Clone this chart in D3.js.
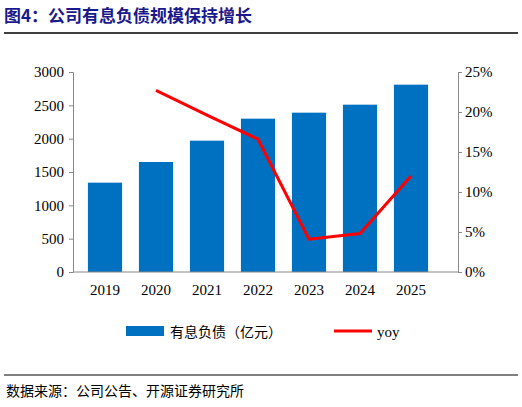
<!DOCTYPE html><html><head><meta charset="utf-8"><script src="https://cdn.jsdelivr.net/npm/d3@7"></script>
<style>body{margin:0;background:#fff}</style></head><body><svg id="c" width="522" height="407"></svg><script>
const years=["2019","2020","2021","2022","2023","2024","2025"];
const debt=[1340,1650,1970,2300,2390,2510,2810];
const yoy=[null,22.7,19.6,16.6,4.1,4.8,12.0];
const leftTicks=[0,500,1000,1500,2000,2500,3000];
const rightTicks=[0,5,10,15,20,25];
const svg=d3.select("#c");
const serif="'Liberation Serif','Times New Roman',serif", cjk="'Noto Sans CJK SC',sans-serif";
svg.append("text").attr("x",4).attr("y",22).attr("fill","#1a1a8c").attr("font-family",cjk).attr("font-weight","bold").attr("font-size",17).text("图4：公司有息负债规模保持增长");
svg.append("line").attr("x1",4).attr("x2",518).attr("y1",33).attr("y2",33).attr("stroke","#000").attr("stroke-width",1.5);
const L=73,R=458,T=72,B=272;
const x=d3.scaleBand().domain(years).range([79.5,436.5]).paddingInner(0.33).paddingOuter(0.165);
const y=d3.scaleLinear().domain([0,3000]).range([B,T]);
const y2=d3.scaleLinear().domain([0,25]).range([B,T]);
svg.selectAll("rect.b").data(years).enter().append("rect").attr("x",d=>x(d)).attr("width",x.bandwidth()).attr("y",(d,i)=>y(debt[i])).attr("height",(d,i)=>B-y(debt[i])).attr("fill","#0070C0");
const ax=svg.append("g").attr("transform",`translate(0,${B})`).call(d3.axisBottom(x).tickSize(0).tickPadding(12));
ax.select(".domain").remove();
svg.append("line").attr("x1",L).attr("x2",R).attr("y1",B).attr("y2",B).attr("stroke","#888");
const ay=svg.append("g").attr("transform",`translate(${L},0)`).call(d3.axisLeft(y).tickValues(leftTicks).tickSize(4).tickFormat(d3.format("d")));
const ay2=svg.append("g").attr("transform",`translate(${R},0)`).call(d3.axisRight(y2).tickValues(rightTicks).tickSize(4).tickFormat(d=>d+"%"));
[ax,ay,ay2].forEach(g=>{g.selectAll("text").attr("font-family",serif).attr("font-size",15).attr("fill","#000");g.selectAll("path,line").attr("stroke","#888");});
ay.selectAll("text").attr("dx",-2);
const line=d3.line().defined(d=>d!=null).x((d,i)=>x(years[i])+x.bandwidth()/2).y(d=>y2(d));
svg.append("path").attr("d",line(yoy)).attr("fill","none").attr("stroke","#FF0000").attr("stroke-width",3);
svg.append("rect").attr("x",126).attr("y",326).attr("width",38).attr("height",10).attr("fill","#0070C0");
svg.append("text").attr("x",170).attr("y",337).attr("font-family",cjk).attr("font-size",14).text("有息负债（亿元）");
svg.append("line").attr("x1",334).attr("x2",372).attr("y1",331).attr("y2",331).attr("stroke","#FF0000").attr("stroke-width",3);
svg.append("text").attr("x",377).attr("y",337).attr("font-family",serif).attr("font-size",15).text("yoy");
svg.append("line").attr("x1",4).attr("x2",518).attr("y1",375).attr("y2",375).attr("stroke","#000").attr("stroke-width",1);
svg.append("text").attr("x",6).attr("y",396).attr("font-family",cjk).attr("font-size",14).text("数据来源：公司公告、开源证券研究所");
</script></body></html>
